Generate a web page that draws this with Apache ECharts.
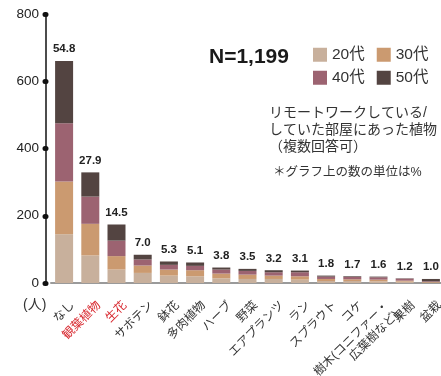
<!DOCTYPE html>
<html>
<head>
<meta charset="utf-8">
<script src="https://cdn.jsdelivr.net/npm/echarts@6/dist/echarts.min.js"></script>
<style>
  html, body { margin: 0; padding: 0; background: #fff; }
  #container { width: 441px; height: 376px; }
</style>
</head>
<body>
<div id="container"></div>
<script>
// 植物の種類
let categories = ['なし', '観葉植物', '生花', 'サボテン', '鉢花', '多肉植物', 'ハーブ', '野菜',
    'エアプランツ', 'ラン', 'スプラウト', 'コケ', '樹木(コニファー・\n広葉樹など)', '果樹', '盆栽'];
let highlighted = ['観葉植物', '生花'];

// 年代別の人数（読み取り値）
let age20 = [145, 82, 40, 30, 22, 20, 14, 12, 12, 10, 6, 6, 5, 4, 1];
let age30 = [157, 94, 40, 22, 18, 18, 14, 13, 10, 10, 6, 5, 5, 3, 2];
let age40 = [173, 81, 46, 18, 14, 13, 12, 11, 10, 12, 7, 7, 7, 6, 2];
let age50 = [185, 72, 48, 14, 10, 10, 6, 6, 6, 5, 3, 2, 2, 1, 7];

// グラフ上の数（%）
let percents = ['54.8', '27.9', '14.5', '7.0', '5.3', '5.1', '3.8', '3.5', '3.2', '3.1', '1.8', '1.7', '1.6', '1.2', '1.0'];

let yTicks = [0, 200, 400, 600, 800];

let colors = ['#c8b09c', '#cb9a70', '#9c6371', '#534441'];
let fontFamily = '"Liberation Sans", "Noto Sans CJK JP", sans-serif';

var dom = document.getElementById('container');
var myChart = echarts.init(dom, null, { renderer: 'canvas' });

var option;

option = {
    animation: false,
    textStyle: { fontFamily: fontFamily },
    title: [
        {
            text: 'N=1,199',
            left: 204, top: 42,
            textStyle: { fontSize: 21, fontWeight: 'bold', color: '#1a1a1a', fontFamily: fontFamily }
        },
        {
            text: 'リモートワークしている/\nしていた部屋にあった植物\n（複数回答可）',
            left: 264, top: 100,
            textStyle: { fontSize: 14, fontWeight: 'normal', color: '#333', lineHeight: 17, fontFamily: fontFamily }
        },
        {
            text: '＊グラフ上の数の単位は%',
            left: 268, top: 161,
            textStyle: { fontSize: 12.5, fontWeight: 'normal', color: '#333', fontFamily: fontFamily }
        },
        {
            // y軸の単位
            text: '(人)',
            left: 18, top: 293,
            textStyle: { fontSize: 14, fontWeight: 'normal', color: '#333', fontFamily: fontFamily }
        }
    ],
    legend: [
        {
            data: ['20代', '30代'],
            left: 308, top: 42,
            icon: 'rect', itemWidth: 14, itemHeight: 14, itemGap: 12,
            textStyle: { fontSize: 15.5, color: '#333' }
        },
        {
            data: ['40代', '50代'],
            left: 308, top: 65,
            icon: 'rect', itemWidth: 14, itemHeight: 14, itemGap: 12,
            textStyle: { fontSize: 15.5, color: '#333' }
        }
    ],
    grid: { left: 51, right: -3, top: 14, bottom: 93, containLabel: false, outerBoundsMode: 'none' },
    xAxis: {
        type: 'category',
        data: categories,
        axisLine: { lineStyle: { color: '#9a9a9a', width: 2 } },
        axisTick: { show: false },
        axisLabel: {
            interval: 0,
            rotate: 45,
            margin: 12,
            verticalAlign: 'top',
            padding: [5, 0, 0, 0],
            fontSize: 12,
            color: '#333',
            lineHeight: 14,
            formatter: function (v) {
                return highlighted.indexOf(v) >= 0 ? '{red|' + v + '}' : v;
            },
            rich: {
                red: { color: '#d8282f', fontSize: 12 }
            }
        }
    },
    yAxis: {
        type: 'value',
        min: yTicks[0],
        max: yTicks[yTicks.length - 1],
        interval: 200,
        offset: 5,
        splitLine: { show: false },
        axisLine: { show: true, lineStyle: { color: '#111', width: 1.5 } },
        axisTick: { show: true, length: 1, lineStyle: { color: '#111', width: 5, cap: 'round' } },
        axisLabel: { fontSize: 13.5, color: '#222', margin: 7 }
    },
    series: [
        { name: '20代', type: 'bar', stack: 'all', data: age20, barWidth: 18, itemStyle: { color: colors[0] } },
        { name: '30代', type: 'bar', stack: 'all', data: age30, barWidth: 18, itemStyle: { color: colors[1] } },
        { name: '40代', type: 'bar', stack: 'all', data: age40, barWidth: 18, itemStyle: { color: colors[2] } },
        {
            name: '50代', type: 'bar', stack: 'all', data: age50, barWidth: 18,
            itemStyle: { color: colors[3] },
            label: {
                show: true,
                position: 'top',
                distance: 6,
                fontSize: 11.5,
                fontWeight: 'bold',
                color: '#222',
                formatter: function (p) { return percents[p.dataIndex]; }
            }
        }
    ]
};

if (option && typeof option === 'object') {
    myChart.setOption(option);
}

window.addEventListener('resize', myChart.resize);
</script>
</body>
</html>
